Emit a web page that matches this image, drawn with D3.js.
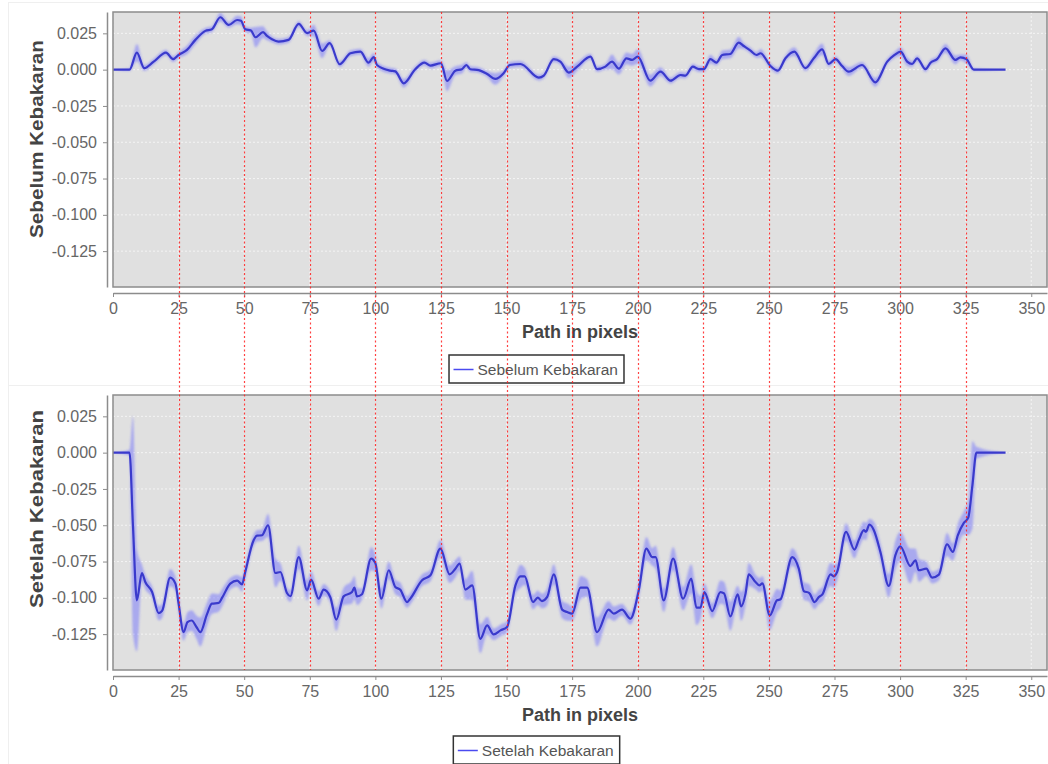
<!DOCTYPE html>
<html>
<head>
<meta charset="utf-8">
<script src="https://cdn.jsdelivr.net/npm/d3@7"></script>
<style>
  body { margin: 0; background: #fff; }
  svg { display: block; font-family: "Liberation Sans", Arial, sans-serif; }
</style>
</head>
<body>
<svg width="1048" height="764"></svg>
<script>
// profile along the path, before and after the fire
var xTicks = [0, 25, 50, 75, 100, 125, 150, 175, 200, 225, 250, 275, 300, 325, 350];
var yTicks = [0.025, 0, -0.025, -0.05, -0.075, -0.1, -0.125];
var markers = [25, 50, 75, 100, 125, 150, 175, 200, 225, 250, 275, 300, 325];

var beforeX = [0, 6.3, 9.1, 11.9, 15.5, 20.2, 22.9, 25, 28.2, 31.4, 35.2, 37.7, 40.9, 44.1, 47.3, 48.8, 50.4, 52.6, 54.3, 57.2,
  58.7, 60.6, 63.1, 66.9, 70.8, 74, 76.5, 79.7, 82.6, 86.4, 90.5, 94.3, 97.4, 99.4, 100.6, 105.7, 107.6, 110.8, 115.2, 118.7,
  121, 125, 127.3, 130.5, 133, 134.7, 136.2, 139.4, 142.6, 145.7, 148.9, 151.2, 155.3, 162.3, 164.2, 168, 170.5, 173.7, 176.9, 182,
  184.5, 187.7, 190.2, 192.8, 195.7, 197.9, 200, 204.8, 208.7, 212.5, 216.3, 218.2, 221, 223.3, 225.2, 227.7, 230, 232.2, 235.3, 238.5,
  240.4, 243, 245.3, 246.8, 250.6, 253.4, 256.3, 259.7, 263.9, 267.1, 270.3, 272.8, 275.4, 277.9, 280.4, 285.5, 290.6, 295.1, 297.9, 300.2,
  302.7, 304.6, 306.5, 309.7, 311.6, 314.1, 317.3, 321.1, 323, 325.3, 328.1, 340.2];
var beforeY = [0, 0, 0.0117, 0.001, 0.0055, 0.0117, 0.0072, 0.0101, 0.0136, 0.0205, 0.0267, 0.0278, 0.0361, 0.0308, 0.0342, 0.0337, 0.0278, 0.0269, 0.0223, 0.0258,
  0.0232, 0.0209, 0.0193, 0.0205, 0.0315, 0.0251, 0.0269, 0.0129, 0.0182, 0.0037, 0.0113, 0.0124, 0.0048, 0.0087, 0.0032, -0.0007, -0.0012, -0.0094, 0.0003, 0.0048,
  0.0028, 0.0044, -0.0078, -0.0007, 0.0003, 0.0032, 0.0003, -0.0003, -0.003, -0.0064, -0.0025, 0.0032, 0.0039, -0.0055, -0.0041, 0.0072, 0.0055, -0.002, 0.0021, 0.009,
  0.0003, 0.0021, 0.0055, 0.0007, 0.0078, 0.0067, 0.009, -0.0076, -0.0014, -0.0076, -0.0037, -0.0041, 0.0021, 0.0003, 0.0003, 0.0072, 0.0048, 0.0101, 0.0108, 0.0186,
  0.0163, 0.0131, 0.0101, 0.0113, 0.0025, -0.0007, 0.0078, 0.0124, 0.001, 0.0078, 0.014, 0.0039, 0.0072, 0.0025, -0.0014, 0.0032, -0.0087, 0.0055, 0.0101, 0.0124,
  0.0055, 0.0039, 0.0078, 0.0003, 0.0048, 0.0072, 0.0147, 0.0067, 0.0085, 0.0072, 0, 0];
var beforeSpread = [0, 0.001, 0.006, 0.002, 0.002, 0.002, 0.002, 0.002, 0.003, 0.003, 0.002, 0.002, 0.003, 0.002, 0.003, 0.003, 0.002, 0.002, 0.007, 0.004,
  0.003, 0.002, 0.002, 0.002, 0.002, 0.002, 0.004, 0.005, 0.002, 0.002, 0.002, 0.002, 0.003, 0.003, 0.002, 0.002, 0.002, 0.003, 0.002, 0.002,
  0.002, 0.002, 0.007, 0.003, 0.003, 0.002, 0.002, 0.002, 0.002, 0.004, 0.002, 0.002, 0.002, 0.002, 0.002, 0.002, 0.002, 0.004, 0.003, 0.002,
  0.002, 0.002, 0.005, 0.004, 0.004, 0.004, 0.005, 0.004, 0.003, 0.002, 0.002, 0.002, 0.002, 0.002, 0.002, 0.003, 0.002, 0.003, 0.003, 0.004,
  0.002, 0.002, 0.002, 0.003, 0.002, 0.002, 0.002, 0.003, 0.002, 0.003, 0.004, 0.002, 0.002, 0.002, 0.003, 0.002, 0.003, 0.002, 0.002, 0.003,
  0.003, 0.002, 0.002, 0.002, 0.002, 0.002, 0.003, 0.003, 0.002, 0.003, 0.001, 0];

var afterX = [0, 6.3, 7.6, 9.1, 11, 12.3, 14.9, 17.4, 18.7, 21.8, 23.8, 25, 26.9, 28.4, 30, 31.8, 33.3, 35.8, 37.7, 40.3,
  41.6, 44.7, 47.3, 49.2, 50.4, 53.6, 54.9, 56.8, 59.1, 61.9, 63.8, 66.3, 67.6, 70.8, 74, 75.5, 78.4, 80.3, 82.8, 85.1,
  87.9, 91.1, 92, 93, 94.9, 98.4, 100, 102.3, 105.1, 107.6, 109.5, 112.1, 113.3, 117.8, 121, 124.8, 128.3, 130.5, 132.1, 134.3,
  136.9, 140, 142.6, 145.1, 147.7, 150.2, 153.4, 155.3, 156.9, 160.1, 161.9, 163.5, 165.5, 168, 171.2, 173.1, 175, 178.2, 180.7, 184.5,
  188.9, 190.9, 194, 197.2, 200.4, 203.3, 205.5, 206.8, 209.9, 213.5, 217.3, 220.4, 222.4, 223.9, 225.4, 228.4, 231.5, 232.9, 235.3, 238.1,
  239.4, 241.1, 242.3, 244.9, 246.5, 247.5, 250.3, 253.1, 254.4, 258.9, 261.4, 263.3, 265.4, 267.4, 269, 270.4, 273.5, 274.7, 276, 279.4,
  282.6, 284.3, 286.2, 287, 288.3, 290, 292.5, 295.7, 298.2, 300.1, 303.9, 305.9, 307.1, 310, 312.2, 314.8, 317.9, 320.1, 322, 324.3,
  326, 327.6, 329.1, 340.2];
var afterY = [0, 0, -0.05, -0.1017, -0.0829, -0.0891, -0.096, -0.1105, -0.109, -0.0861, -0.0902, -0.104, -0.1236, -0.1167, -0.1156, -0.1201, -0.1236, -0.1114, -0.104, -0.1035,
  -0.0999, -0.0902, -0.0882, -0.0907, -0.0822, -0.0603, -0.0572, -0.0569, -0.05, -0.0829, -0.0822, -0.0967, -0.0989, -0.0719, -0.0948, -0.0875, -0.1006, -0.0944, -0.0994, -0.115,
  -0.099, -0.096, -0.093, -0.099, -0.0975, -0.073, -0.0761, -0.1006, -0.081, -0.0925, -0.0944, -0.1029, -0.1006, -0.0879, -0.0845, -0.0661, -0.0838, -0.08, -0.0764, -0.0943,
  -0.0914, -0.1282, -0.119, -0.1252, -0.1224, -0.1201, -0.0914, -0.0852, -0.0852, -0.1029, -0.0999, -0.1022, -0.0994, -0.0838, -0.1081, -0.1098, -0.1109, -0.093, -0.093, -0.1236,
  -0.1081, -0.1109, -0.1081, -0.1144, -0.0948, -0.0661, -0.0719, -0.0719, -0.1017, -0.073, -0.1006, -0.0868, -0.1068, -0.1068, -0.096, -0.1091, -0.096, -0.097, -0.1128, -0.0976,
  -0.1059, -0.0971, -0.0838, -0.0891, -0.0914, -0.09, -0.1121, -0.1017, -0.101, -0.0719, -0.0799, -0.0953, -0.0967, -0.1029, -0.0995, -0.0976, -0.0838, -0.0852, -0.0822, -0.0546,
  -0.0668, -0.0599, -0.0534, -0.0545, -0.0495, -0.0534, -0.0684, -0.0918, -0.0707, -0.0645, -0.0781, -0.0741, -0.081, -0.0799, -0.0861, -0.084, -0.0631, -0.0684, -0.0569, -0.0484,
  -0.0447, -0.022, 0, 0];
var afterSpread = [0, 0.002, 0.075, 0.035, 0.006, 0.005, 0.004, 0.005, 0.005, 0.006, 0.005, 0.006, 0.006, 0.007, 0.007, 0.008, 0.01, 0.008, 0.007, 0.006,
  0.006, 0.004, 0.004, 0.005, 0.005, 0.004, 0.004, 0.004, 0.008, 0.01, 0.006, 0.004, 0.004, 0.008, 0.007, 0.006, 0.005, 0.004, 0.004, 0.008,
  0.006, 0.008, 0.008, 0.006, 0.004, 0.008, 0.006, 0.007, 0.006, 0.005, 0.005, 0.004, 0.004, 0.004, 0.004, 0.006, 0.006, 0.006, 0.005, 0.007,
  0.01, 0.01, 0.006, 0.004, 0.004, 0.004, 0.006, 0.008, 0.006, 0.005, 0.005, 0.005, 0.006, 0.007, 0.006, 0.006, 0.005, 0.008, 0.006, 0.01,
  0.006, 0.005, 0.004, 0.004, 0.006, 0.008, 0.006, 0.008, 0.008, 0.008, 0.008, 0.01, 0.012, 0.008, 0.006, 0.005, 0.008, 0.008, 0.01, 0.006,
  0.01, 0.008, 0.008, 0.005, 0.005, 0.005, 0.01, 0.008, 0.006, 0.006, 0.006, 0.006, 0.006, 0.005, 0.005, 0.005, 0.008, 0.008, 0.006, 0.006,
  0.006, 0.006, 0.006, 0.006, 0.004, 0.006, 0.006, 0.008, 0.01, 0.01, 0.012, 0.008, 0.008, 0.005, 0.004, 0.004, 0.008, 0.006, 0.008, 0.008,
  0.012, 0.03, 0.004, 0];

var svg = d3.select('svg');
var plotLeft = 113, plotRight = 1047;
var x = d3.scaleLinear().domain([0, 356]).range([plotLeft, plotRight]);

var defs = svg.append('defs');
defs.append('filter').attr('id', 'soft')
  .append('feGaussianBlur').attr('stdDeviation', 0.9);

function zip(xs, ys, sp) {
  return xs.map(function(d, i) { return {x: d, y: ys[i], s: sp[i]}; });
}

// one chart panel: plot box, axes, band + line, legend
function panel(opts) {
  var y = d3.scaleLinear().domain([-0.1497, 0.0397]).range([opts.bottom, opts.top]);
  var data = zip(opts.xs, opts.ys, opts.spread);
  var g = svg.append('g');

  // faint outer frame
  g.append('rect').attr('x', 8.5).attr('y', opts.frameTop + 0.5)
    .attr('width', 1060).attr('height', opts.frameH)
    .attr('fill', 'none').attr('stroke', '#efefef');

  g.append('rect').attr('x', plotLeft).attr('y', opts.top)
    .attr('width', plotRight - plotLeft).attr('height', opts.bottom - opts.top)
    .attr('fill', '#e0e0e0');

  // dashed white gridlines
  g.selectAll('.hg').data(yTicks).enter().append('line')
    .attr('x1', plotLeft).attr('x2', plotRight)
    .attr('y1', function(d) { return y(d); }).attr('y2', function(d) { return y(d); })
    .attr('stroke', '#f4f4f4').attr('stroke-dasharray', '2,2');
  g.selectAll('.vg').data(xTicks).enter().append('line')
    .attr('y1', opts.top).attr('y2', opts.bottom)
    .attr('x1', function(d) { return x(d); }).attr('x2', function(d) { return x(d); })
    .attr('stroke', '#f4f4f4').attr('stroke-dasharray', '2,2');

  var clipId = 'clip' + opts.top;
  defs.append('clipPath').attr('id', clipId).append('rect')
    .attr('x', plotLeft).attr('y', opts.top)
    .attr('width', plotRight - plotLeft).attr('height', opts.bottom - opts.top);

  var area = d3.area().curve(d3.curveMonotoneX)
    .x(function(d) { return x(d.x); })
    .y0(function(d) { return y(d.y - d.s); })
    .y1(function(d) { return y(d.y + d.s); });
  var line = d3.line().curve(d3.curveMonotoneX)
    .x(function(d) { return x(d.x); })
    .y(function(d) { return y(d.y); });

  var cg = g.append('g').attr('clip-path', 'url(#' + clipId + ')');
  cg.append('path').datum(data).attr('d', area)
    .attr('fill', 'rgba(100,100,255,0.45)').attr('filter', 'url(#soft)');
  cg.append('path').datum(data).attr('d', line)
    .attr('fill', 'none').attr('stroke', '#3a3acc').attr('stroke-width', 2.2)
    .attr('stroke-linejoin', 'round');

  g.append('rect').attr('x', plotLeft).attr('y', opts.top)
    .attr('width', plotRight - plotLeft).attr('height', opts.bottom - opts.top)
    .attr('fill', 'none').attr('stroke', '#8c8c8c').attr('stroke-width', 1.5);

  // axes, offset from the plot like the original
  var ya = g.append('g').attr('transform', 'translate(107,0)')
    .call(d3.axisLeft(y).tickValues(yTicks).tickSize(4).tickSizeOuter(0).tickPadding(6)
      .tickFormat(function(d) { return d.toFixed(3); }));
  var xa = g.append('g').attr('transform', 'translate(0,' + (opts.bottom + 6) + ')')
    .call(d3.axisBottom(x).tickValues(xTicks).tickSize(4).tickSizeOuter(0).tickPadding(6));
  [ya, xa].forEach(function(a) {
    a.select('.domain').attr('stroke', '#8c8c8c').attr('stroke-width', 1.5);
    a.selectAll('.tick line').attr('stroke', '#8c8c8c');
    a.selectAll('text').attr('fill', '#666').style('font-size', '16px')
      .style('font-family', '"Liberation Sans", Arial, sans-serif');
  });

  g.append('text').attr('x', (plotLeft + plotRight) / 2).attr('y', opts.bottom + 51)
    .attr('text-anchor', 'middle').attr('fill', '#444')
    .style('font-size', '18px').style('font-weight', 'bold')
    .text('Path in pixels');

  g.append('text').attr('transform', 'translate(43,' + opts.titleY + ') rotate(-90)')
    .attr('text-anchor', 'middle').attr('fill', '#444')
    .attr('textLength', 198).attr('lengthAdjust', 'spacingAndGlyphs')
    .style('font-size', '19px').style('font-weight', 'bold')
    .text(opts.name);

  // legend
  var lg = g.append('g');
  var lt = lg.append('text').attr('y', opts.legendY + 20).attr('fill', '#555')
    .style('font-size', '15.5px').text(opts.name);
  var tw = lt.node().getComputedTextLength();
  var bw = 4.5 + 20 + 4 + tw + 6;
  var bx = 536.5 - bw / 2;
  lt.attr('x', bx + 28.5);
  lg.insert('rect', 'text').attr('x', bx).attr('y', opts.legendY)
    .attr('width', bw).attr('height', 28)
    .attr('fill', '#fff').attr('stroke', '#333').attr('stroke-width', 1.5);
  lg.append('line').attr('x1', bx + 4.5).attr('x2', bx + 24.5)
    .attr('y1', opts.legendY + 14.5).attr('y2', opts.legendY + 14.5)
    .attr('stroke', '#4a4af0').attr('stroke-width', 1.5);
}

panel({name: 'Sebelum Kebakaran', xs: beforeX, ys: beforeY, spread: beforeSpread,
  top: 12, bottom: 287, titleY: 139, legendY: 355, frameTop: 2, frameH: 383});
panel({name: 'Setelah Kebakaran', xs: afterX, ys: afterY, spread: afterSpread,
  top: 395, bottom: 670, titleY: 509, legendY: 736, frameTop: 385, frameH: 400});

// red dotted markers run through both charts
svg.append('g').selectAll('line').data(markers).enter().append('line')
  .attr('x1', function(d) { return Math.round(x(d)) + 0.5; })
  .attr('x2', function(d) { return Math.round(x(d)) + 0.5; })
  .attr('y1', 12).attr('y2', 670)
  .attr('stroke', '#ff2020').attr('stroke-width', 1.2).attr('stroke-dasharray', '2,2.5')
  .attr('opacity', 0.85);
</script>
</body>
</html>
